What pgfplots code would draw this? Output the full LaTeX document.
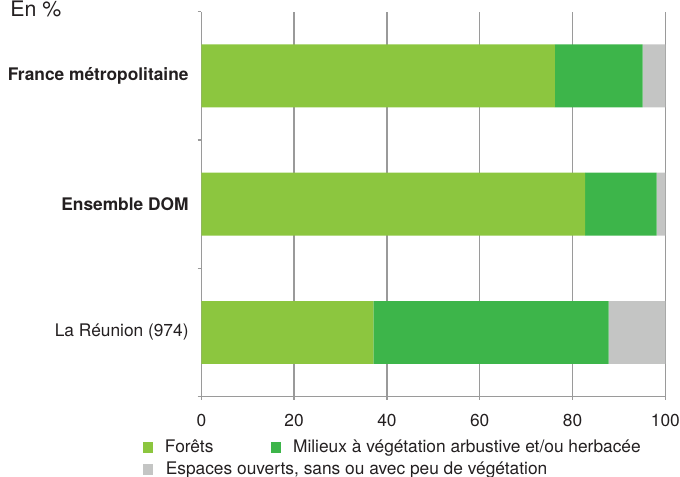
\documentclass[border=0pt]{standalone}
\usepackage{fontspec}
\setmainfont{TeX Gyre Heros}
\usepackage{pgfplots}
\pgfplotsset{compat=1.18}
\definecolor{foret}{HTML}{8CC63F}
\definecolor{milieu}{HTML}{3DB54A}
\definecolor{espace}{HTML}{C4C5C4}
\definecolor{gridgray}{HTML}{9A9A9A}
\definecolor{txt}{HTML}{231F20}
\begin{document}
\fontsize{10.4}{12}\selectfont
\begin{tikzpicture}
\begin{axis}[
  name=ax,
  scale only axis, width=278.4pt, height=231pt,
  xbar stacked, bar width=0.49,
  xmin=0, xmax=100, ymin=-0.5, ymax=2.5,
  axis x line*=bottom, axis y line*=left,
  axis line style={gridgray, line width=0.8pt, -},
  xmajorgrids, grid style={gridgray, line width=0.8pt},
  xtick={0,20,...,100},
  ytick={0,1,2},
  yticklabels={La Réunion (974), \textbf{Ensemble DOM}, \textbf{France métropolitaine}},
  minor ytick={-0.5,0.5,1.5,2.5},
  tick align=outside,
  xtick style={gridgray, line width=0.8pt, /pgfplots/major tick length=2pt},
  ytick style={gridgray, line width=0.8pt, /pgfplots/major tick length=0pt, /pgfplots/minor tick length=2.2pt},
  tick label style={text=txt, font=\fontsize{10.4}{12}\selectfont},
  xticklabel style={inner sep=0pt, yshift=-6pt},
  yticklabel style={inner sep=0pt, xshift=-3.2pt},
  /pgf/number format/assume math mode=true,
  legend columns=2,
  legend cell align=left,
  legend image code/.code={\fill[#1] (0pt,-3.2pt) rectangle (6.4pt,3.2pt);},
  legend style={draw=none, fill=none, inner sep=0pt, outer sep=0pt,
    at={(rel axis cs:0,0)}, anchor=north west, xshift=-35.2pt, yshift=-25.8pt,
    /tikz/every odd column/.append style={column sep=7pt},
    /tikz/every even column/.append style={column sep=34.4pt},
    row sep=4pt,
    nodes={inner sep=0pt, text=txt},
    font=\fontsize{10.4}{12}\selectfont},
]
\addplot+[fill=foret, draw=none] coordinates {(76.2,2) (82.7,1) (37.1,0)};
\addplot+[fill=milieu, draw=none] coordinates {(18.9,2) (15.4,1) (50.7,0)};
\addplot+[fill=espace, draw=none] coordinates {(4.9,2) (1.9,1) (12.2,0)};
\legend{Forêts, Milieux à végétation arbustive et/ou herbacée, \rlap{Espaces ouverts, sans ou avec peu de végétation}}
\end{axis}
\node[anchor=base west, inner sep=0pt, text=txt, font=\fontsize{12.8}{14}\selectfont] at ([xshift=-114.8pt, yshift=-2.6pt]ax.north west) {En \%};
\pgfresetboundingbox
\path[use as bounding box] ([xshift=-120.8pt,yshift=-48.2pt]ax.south west) rectangle ([xshift=8.8pt,yshift=7.0pt]ax.north east);
\end{tikzpicture}
\end{document}
